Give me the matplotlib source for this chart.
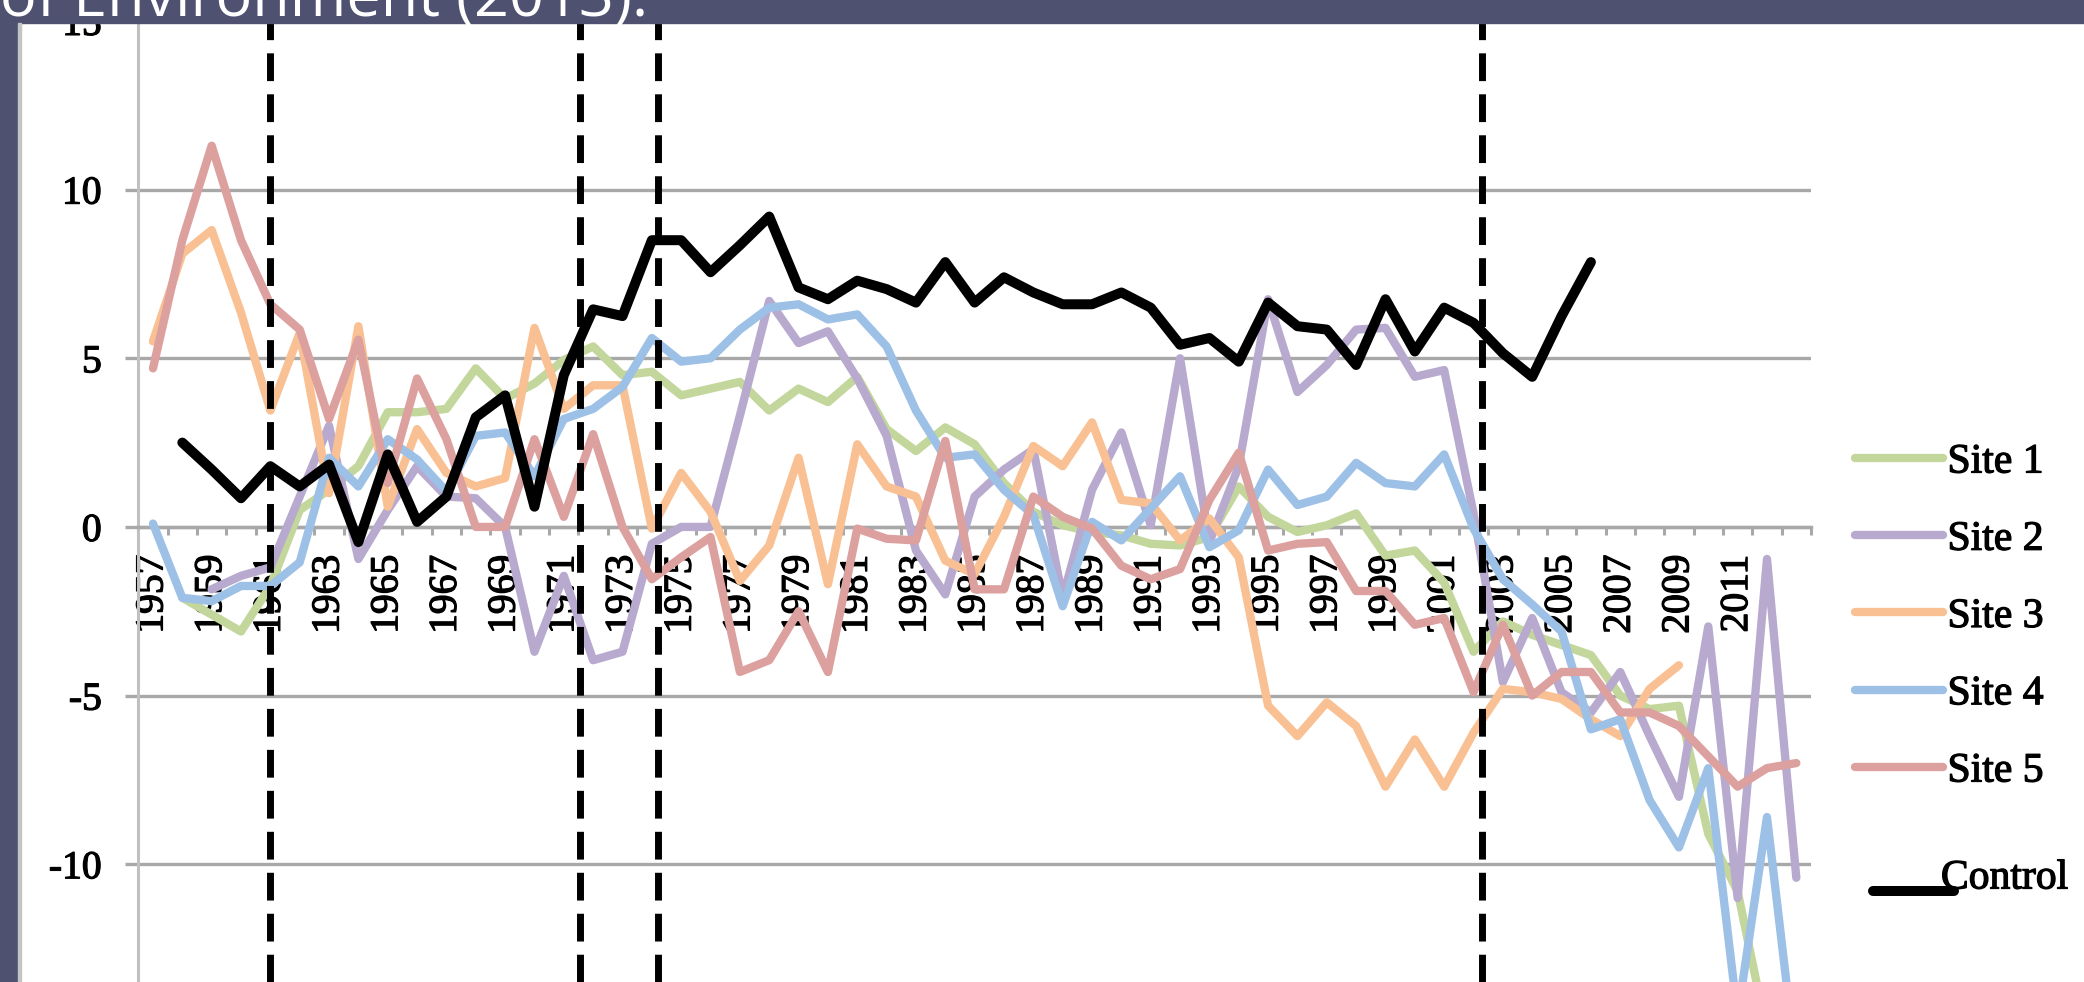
import numpy as np
import matplotlib
matplotlib.use('Agg')
import matplotlib.pyplot as plt
import matplotlib.patheffects as pe
from matplotlib.patches import Rectangle

plt.rcParams['font.family'] = ['Liberation Serif', 'DejaVu Serif']
plt.rcParams['axes.unicode_minus'] = False

nan = np.nan
years = list(range(1957, 2014))

site1 = [nan, -2.1, -2.6, -3.1, -1.75, 0.5, 1.1, 1.8, 3.4, 3.4,
         3.5, 4.7, 3.8, 4.25, 4.95, 5.35, 4.5, 4.6, 3.9, 4.1,
         4.3, 3.45, 4.1, 3.7, 4.45, 2.9, 2.25, 2.95, 2.45, 1.3,
         0.45, 0.05, -0.15, -0.25, -0.5, -0.55, -0.3, 1.2, 0.3, -0.15,
         0.05, 0.4, -0.85, -0.7, -1.65, -3.7, -2.8, -3.2, -3.5, -3.8,
         -5.0, -5.4, -5.3, -9.1, -10.8, -15.0, nan]
site2 = [nan, nan, -1.85, -1.45, -1.2, 0.9, 3.0, -0.95, 0.5, 1.8,
         0.9, 0.85, 0.0, -3.7, -1.45, -3.95, -3.7, -0.5, 0.0, 0.0,
         3.3, 6.7, 5.45, 5.8, 4.4, 2.7, -0.7, -2.0, 0.9, 1.7,
         2.3, -2.1, 1.1, 2.8, 0.05, 5.0, -0.45, 1.8, 6.75, 4.0,
         4.8, 5.85, 5.9, 4.45, 4.65, 0.4, -4.6, -2.7, -4.9, -5.5,
         -4.3, -6.2, -8.0, -2.95, -11.0, -0.95, -10.4]
site3 = [5.5, 8.1, 8.8, 6.35, 3.45, 5.75, 1.0, 5.95, 0.6, 2.9,
         1.6, 1.2, 1.45, 5.9, 3.5, 4.2, 4.2, -0.05, 1.6, 0.45,
         -1.6, -0.55, 2.05, -1.7, 2.45, 1.2, 0.9, -1.0, -1.4, 0.3,
         2.4, 1.8, 3.1, 0.8, 0.7, -0.4, 0.25, -0.9, -5.3, -6.2,
         -5.2, -5.9, -7.7, -6.3, -7.7, -6.1, -4.8, -4.9, -5.1, -5.7,
         -6.2, -4.8, -4.1, nan, nan, nan, nan]
site4 = [0.1, -2.1, -2.2, -1.75, -1.75, -1.05, 2.05, 1.2, 2.6, 2.0,
         1.05, 2.7, 2.8, 1.5, 3.2, 3.5, 4.15, 5.6, 4.9, 5.0,
         5.85, 6.5, 6.6, 6.15, 6.3, 5.35, 3.45, 2.05, 2.15, 1.1,
         0.35, -2.35, 0.15, -0.4, 0.55, 1.5, -0.6, -0.1, 1.7, 0.65,
         0.9, 1.9, 1.3, 1.2, 2.15, -0.05, -1.55, -2.3, -3.1, -6.0,
         -5.7, -8.1, -9.5, -7.15, -14.5, -8.6, -16.0]
site5 = [4.7, 8.5, 11.3, 8.5, 6.6, 5.85, 3.2, 5.55, 1.3, 4.4,
         2.6, 0.0, 0.0, 2.6, 0.3, 2.75, 0.0, -1.55, -0.9, -0.3,
         -4.3, -3.95, -2.5, -4.3, -0.05, -0.35, -0.4, 2.55, -1.85, -1.85,
         0.9, 0.3, -0.05, -1.15, -1.55, -1.25, 0.8, 2.2, -0.7, -0.5,
         -0.45, -1.9, -1.9, -2.9, -2.7, -4.9, -2.9, -5.0, -4.3, -4.3,
         -5.5, -5.5, -5.9, -6.8, -7.7, -7.15, -7.0]
control = [nan, 2.5, 1.7, 0.85, 1.8, 1.2, 1.85, -0.45, 2.15, 0.15,
           0.9, 3.25, 3.9, 0.6, 4.5, 6.45, 6.25, 8.5, 8.5, 7.55,
           8.35, 9.2, 7.1, 6.75, 7.3, 7.05, 6.65, 7.85, 6.65, 7.4,
           6.95, 6.6, 6.6, 6.95, 6.5, 5.4, 5.6, 4.9, 6.65, 5.95,
           5.85, 4.8, 6.75, 5.2, 6.5, 6.05, 5.15, 4.45, 6.25, 7.85,
           nan, nan, nan, nan, nan, nan, nan]

site_names = ['Site 1', 'Site 2', 'Site 3', 'Site 4', 'Site 5']
site_colors = ['#c3d69b', '#b8a9cf', '#f9c193', '#9dc0e6', '#dca09f']
# years where dashed markers were drawn on the slide
marker_years = [1961.0, 1971.55, 1974.2, 2002.3]

W, H = 2084, 982
fig = plt.figure(figsize=(W / 100, H / 100), dpi=100)
x0, x1 = 138.3, 1811
ax = fig.add_axes([x0 / W, 0, (x1 - x0) / W, 1])

x = np.arange(len(years))
grid_col = '#a8a8a8'
heavy = [pe.withStroke(linewidth=0.9, foreground='black')]

lines = []
for vals, name, col in zip([site1, site2, site3, site4, site5], site_names, site_colors):
    ln, = ax.plot(x, vals, color=col, lw=6.0, label=name,
                  solid_capstyle='round', solid_joinstyle='round', zorder=2)
    lines.append(ln)
ctrl, = ax.plot(x, control, color='black', lw=7.2, label='Control',
                solid_capstyle='round', solid_joinstyle='round', zorder=3)

for yr in marker_years:
    ax.axvline(yr - years[0], color='black', lw=5.0, dashes=(4.0, 1.9), zorder=6)

ax.set_xlim(-0.5, len(years) - 0.5)
ax.set_ylim(-13.49, 15.62)

for s in ['top', 'right']:
    ax.spines[s].set_visible(False)
ax.spines['left'].set_color('#c0c0c0')
ax.spines['left'].set_linewidth(2.2)
ax.spines['bottom'].set_position(('data', 0))
ax.spines['bottom'].set_color(grid_col)
ax.spines['bottom'].set_linewidth(2.4)
ax.spines['bottom'].set_zorder(1.6)
ax.spines['left'].set_zorder(1.6)

ax.set_yticks([-10, -5, 0, 5, 10, 15])
ax.set_yticklabels(['-10', '-5', '0', '5', '10', '15'])
ax.yaxis.grid(True, color=grid_col, lw=2.4)
ax.tick_params(axis='y', length=9.4, width=2.4, color=grid_col, pad=17, labelsize=28.5)

label_idx = [i for i, y in enumerate(years) if (y - 1957) % 2 == 0 and y <= 2011]
ax.set_xticks(label_idx)
ax.set_xticklabels([str(years[i]) for i in label_idx], rotation=90)
ax.set_xticks(np.arange(-0.5, len(years), 1), minor=True)
ax.tick_params(axis='x', which='major', length=0, pad=20, labelsize=28.5)
ax.tick_params(axis='x', which='minor', length=6, width=2.2, color=grid_col, direction='out')
for t in ax.get_xticklabels() + ax.get_yticklabels():
    t.set_path_effects(heavy)

fs = 30
leg = ax.legend(handles=lines, labels=site_names, loc='upper left',
                bbox_to_anchor=(1855 / W, 1 - 443 / H), bbox_transform=fig.transFigure,
                frameon=False, fontsize=fs, handlelength=2.1, handletextpad=0.12,
                labelspacing=0.93, borderpad=0, borderaxespad=0)
ax.add_artist(leg)
leg2 = ax.legend(handles=[ctrl], labels=['Control'], loc='upper left',
                 bbox_to_anchor=(1873 / W, 1 - 859 / H), bbox_transform=fig.transFigure,
                 frameon=False, fontsize=fs, handlelength=1.95, handletextpad=-0.32,
                 borderpad=0, borderaxespad=0)
for ln in leg2.get_lines():
    ln.set_ydata(np.asarray(ln.get_ydata()) - 12)
for t in leg.get_texts() + leg2.get_texts():
    t.set_path_effects(heavy)

# slide decoration around the chart
fig.add_artist(Rectangle((0, 1 - 23 / H), 1, 23 / H, transform=fig.transFigure,
                         color='#4f5170', zorder=20))
fig.add_artist(Rectangle((0, 0), 17 / W, 1, transform=fig.transFigure,
                         color='#4f5170', zorder=20))
fig.add_artist(Rectangle((18 / W, 0), 3 / W, 1 - 23 / H, transform=fig.transFigure,
                         color='#c4c4c4', zorder=20))
fig.text(648 / W, 1 - 16 / H, 'of Environment (2013).', color='white', fontsize=44,
         ha='right', va='baseline', family='Open Sans', zorder=21)

fig.savefig('out.png', dpi=100)
